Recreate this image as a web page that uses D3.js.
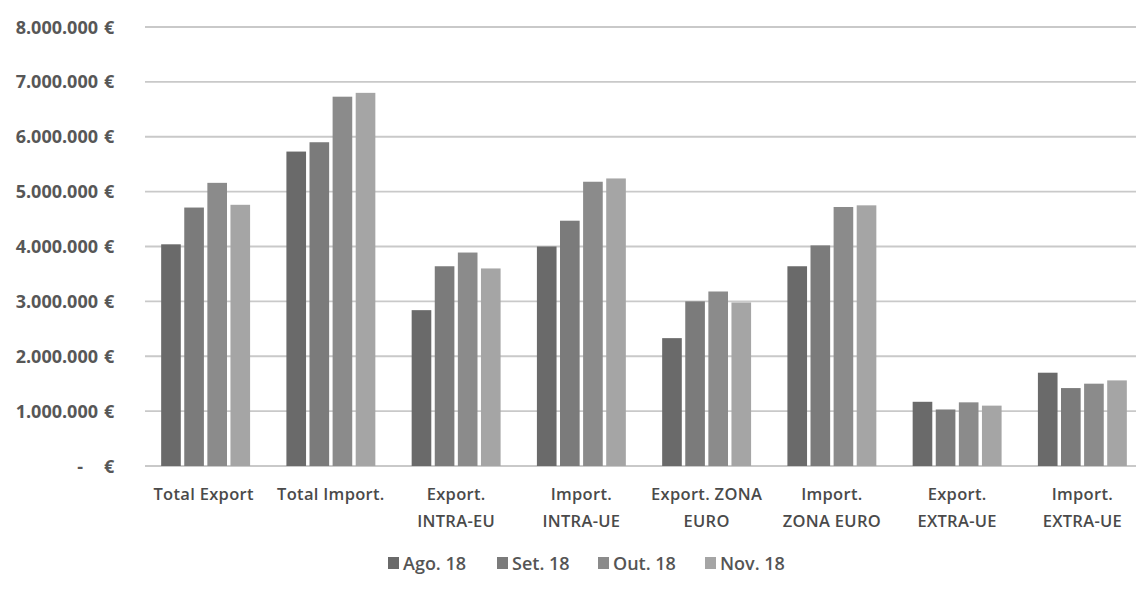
<!DOCTYPE html>
<html><head><meta charset="utf-8">
<script src="https://cdn.jsdelivr.net/npm/d3@7"></script>
<style>body{margin:0;background:#fff}svg{display:block}</style>
</head><body>
<svg id="c" width="1136" height="599"></svg>
<script>
const categories = [["Total Export"],["Total Import."],["Export.","INTRA-EU"],["Import.","INTRA-UE"],["Export. ZONA","EURO"],["Import.","ZONA EURO"],["Export.","EXTRA-UE"],["Import.","EXTRA-UE"]];
const seriesNames = ["Ago. 18","Set. 18","Out. 18","Nov. 18"];
const ago18 = [4040000,5730000,2840000,4000000,2330000,3640000,1170000,1700000];
const set18 = [4710000,5900000,3640000,4470000,3000000,4020000,1030000,1420000];
const out18 = [5160000,6730000,3890000,5180000,3180000,4720000,1160000,1500000];
const nov18 = [4760000,6800000,3600000,5240000,2980000,4750000,1100000,1560000];
const yTicks = [0,1000000,2000000,3000000,4000000,5000000,6000000,7000000,8000000];
const colors = ["#6a6a6a","#7b7b7b","#8b8b8b","#a5a5a5"];

const series = [ago18,set18,out18,nov18];
const svg = d3.select("#c");
const y = d3.scaleLinear().domain([0,8000000]).range([466,27]);
const x0 = d3.scaleBand().domain(d3.range(categories.length)).range([143,1145]).paddingInner(0.29).paddingOuter(0.145);
const x1 = d3.scaleBand().domain(d3.range(4)).range([0,x0.bandwidth()]).paddingInner(0.15);

// gridlines
svg.append("g").selectAll("line").data(yTicks).join("line")
  .attr("x1",145).attr("x2",1136)
  .attr("y1",d=>y(d)).attr("y2",d=>y(d))
  .attr("stroke","#c9c9c9").attr("stroke-width",1.8);

// y labels
const fmt = d=> d===0 ? "-" : d3.format(",")(d).replace(/,/g,".");
const yl = svg.append("g").attr("font-family","'Open Sans',sans-serif").attr("font-weight",700).attr("font-size",18).attr("fill","#575757");
yl.selectAll("text.v").data(yTicks).join("text").attr("class","v")
  .attr("x",d=>d===0?83:98).attr("y",d=>y(d)+6.5).attr("text-anchor","end").text(fmt);
yl.selectAll("text.e").data(yTicks).join("text").attr("class","e")
  .attr("x",104).attr("y",d=>y(d)+6.5).text("€");

// bars
const g = svg.append("g");
categories.forEach((c,i)=>{
  series.forEach((s,j)=>{
    g.append("rect")
     .attr("x",x0(i)+x1(j)).attr("width",x1.bandwidth())
     .attr("y",y(s[i])).attr("height",y(0)-y(s[i]))
     .attr("fill",colors[j]);
  });
});

// x labels
const xl = svg.append("g").attr("font-family","'Open Sans',sans-serif").attr("font-size",16.5).attr("font-weight",600).attr("letter-spacing",0.3).attr("fill","#4a4a4a").attr("text-anchor","middle");
categories.forEach((c,i)=>{
  c.forEach((line,k)=>{
    xl.append("text").attr("x",x0(i)+x0.bandwidth()/2+ (i===0?-2:0)).attr("y",500+k*27).text(line);
  });
});

// legend
const lg = svg.append("g").attr("font-family","'Open Sans',sans-serif").attr("font-size",18).attr("font-weight",600).attr("fill","#555");
const lx = [388,497,598,705];
seriesNames.forEach((n,j)=>{
  lg.append("rect").attr("x",lx[j]).attr("y",557).attr("width",11).attr("height",12).attr("fill",colors[j]);
  lg.append("text").attr("x",lx[j]+15).attr("y",570).text(n);
});
</script>
</body></html>
